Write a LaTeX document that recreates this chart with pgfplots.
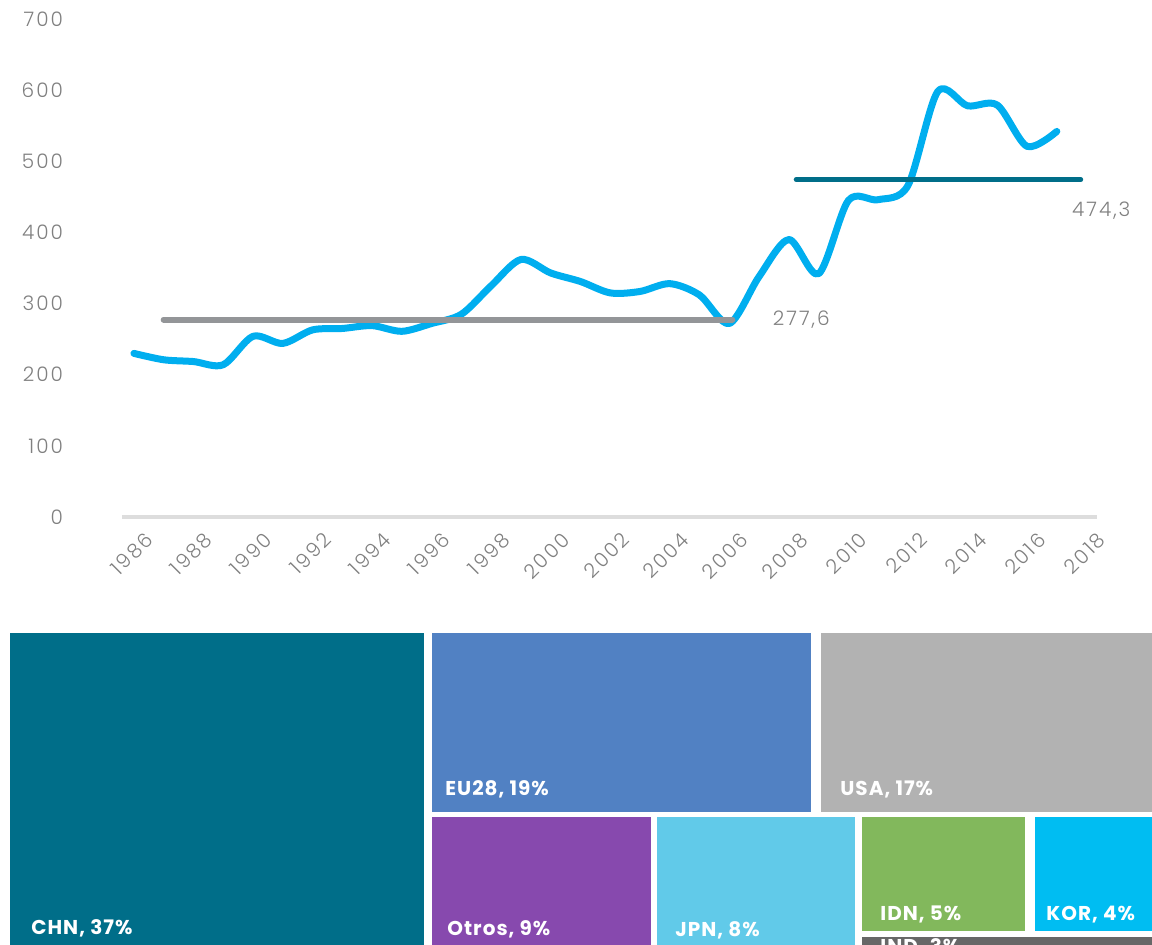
\documentclass[border=0pt]{standalone}
\usepackage{fontspec}
\setmainfont{Poppins}
\newfontfamily\tickfont[LetterSpace=10]{Poppins Light}
\newfontfamily\boxfont[LetterSpace=5]{Poppins}
\usepackage{pgfplots}
\pgfplotsset{compat=1.18}
\definecolor{lineblue}{HTML}{00AEEF}
\definecolor{meangray}{HTML}{939598}
\definecolor{meanteal}{HTML}{006E89}
\definecolor{axisgray}{HTML}{DDDDDD}
\definecolor{tickgray}{HTML}{808080}
\definecolor{cCHN}{HTML}{006E89}
\definecolor{cEU}{HTML}{5181C3}
\definecolor{cUSA}{HTML}{B2B2B2}
\definecolor{cOTR}{HTML}{8749AE}
\definecolor{cJPN}{HTML}{61CAE9}
\definecolor{cIDN}{HTML}{82B85C}
\definecolor{cKOR}{HTML}{00BDF2}
\definecolor{cIND}{HTML}{676767}
\begin{document}
\begin{tikzpicture}
\useasboundingbox (0,0) rectangle (576pt,472pt);
\clip (0,0) rectangle (576pt,472pt);
\begin{axis}[
  at={(61pt,213.5pt)}, anchor=south west,
  scale only axis, width=487.5pt, height=249pt,
  xmin=1985.6, xmax=2018.35, ymin=0, ymax=700,
  axis x line*=bottom, axis y line*=left,
  y axis line style={draw=none},
  x axis line style={draw=axisgray, line width=2pt, -},
  major tick length=0pt,
  xtick={1986,1988,...,2018}, ytick={0,100,...,700},
  ticklabel style={font=\tickfont\fontsize{10}{12}\selectfont, text=tickgray},
  /pgf/number format/assume math mode=true,
  /pgf/number format/1000 sep={},
  xticklabel style={rotate=45, anchor=north east, xshift=2pt, yshift=-5pt},
  yticklabel style={xshift=-26pt},
  clip=false]
\addplot[lineblue, line width=3.5pt, smooth, line cap=round, line join=round] coordinates {
(1986,230) (1987,221) (1988,218.5) (1989,214) (1990,254) (1991,244)
(1992,263) (1993,265) (1994,269) (1995,261) (1996,272) (1997,285)
(1998,325) (1999,362) (2000,343) (2001,331) (2002,315) (2003,317)
(2004,328) (2005,312) (2006,272) (2007,338) (2008,390) (2009,342)
(2010,445) (2011,446) (2012,466) (2013,598) (2014,578) (2015,579)
(2016,521) (2017,542)};
\addplot[meangray, line width=3pt, line cap=round] coordinates {(1987,277.6) (2006.1,277.6)};
\addplot[meanteal, line width=2.6pt, line cap=round] coordinates {(2008.25,474.3) (2017.8,474.3)};
\node[anchor=west, text=tickgray, font=\tickfont\fontsize{10}{12}\selectfont, inner sep=0pt] at (axis cs:2007.45,277.6) {277,6};
\node[anchor=west, text=tickgray, font=\tickfont\fontsize{10}{12}\selectfont, inner sep=0pt] at (axis cs:2017.5,430) {474,3};
\end{axis}
\begin{axis}[
  at={(0pt,0pt)}, anchor=south west,
  scale only axis, width=576pt, height=162pt,
  xmin=0, xmax=1152, ymin=620, ymax=944, y dir=reverse,
  hide axis, clip=false]
\addplot[draw=none, fill=cCHN] coordinates {(10,634) (424,634) (424,960) (10,960)};
\addplot[draw=none, fill=cEU] coordinates {(432,634) (811,634) (811,812) (432,812)};
\addplot[draw=none, fill=cUSA] coordinates {(821,634) (1160,634) (1160,812) (821,812)};
\addplot[draw=none, fill=cOTR] coordinates {(432,817) (651,817) (651,960) (432,960)};
\addplot[draw=none, fill=cJPN] coordinates {(657,817) (855,817) (855,960) (657,960)};
\addplot[draw=none, fill=cIDN] coordinates {(862,817) (1025,817) (1025,931) (862,931)};
\addplot[draw=none, fill=cKOR] coordinates {(1035,817) (1160,817) (1160,931) (1035,931)};
\addplot[draw=none, fill=cIND] coordinates {(862,937) (1160,937) (1160,960) (862,960)};
\tikzset{tm/.style={anchor=base west, text=white, inner sep=0pt, font=\boxfont\fontsize{10}{12}\selectfont\bfseries}}
\node[tm] at (axis cs:31,935) {CHN, 37\%};
\node[tm] at (axis cs:445,796) {EU28, 19\%};
\node[tm] at (axis cs:840,796) {USA, 17\%};
\node[tm] at (axis cs:447,936) {Otros, 9\%};
\node[tm] at (axis cs:675,937) {JPN, 8\%};
\node[tm] at (axis cs:880,921) {IDN, 5\%};
\node[tm] at (axis cs:1046,921) {KOR, 4\%};
\node[tm] at (axis cs:880,953) {IND, 3\%};
\end{axis}
\end{tikzpicture}
\end{document}
